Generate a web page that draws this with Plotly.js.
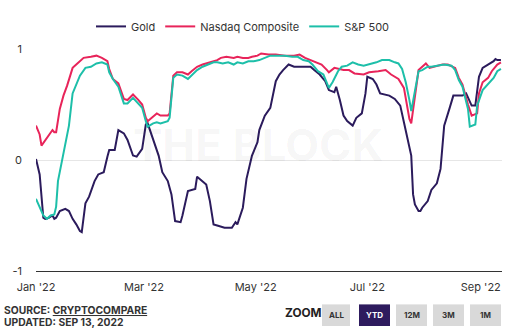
<!DOCTYPE html>
<html>
<head>
<meta charset="utf-8">
<script src="https://cdn.plot.ly/plotly-3.0.1.min.js"></script>
<style>
html,body{margin:0;padding:0;background:#fff;}
#chart{width:523px;height:336px;}
</style>
</head>
<body>
<div id="chart"></div>
<script>
// ---- Data ----
const goldDates = ["2022-01-01","2022-01-03","2022-01-05","2022-01-06","2022-01-08","2022-01-10","2022-01-11","2022-01-12","2022-01-14","2022-01-17","2022-01-19","2022-01-21","2022-01-23","2022-01-25","2022-01-26","2022-01-28","2022-01-30","2022-02-02","2022-02-04","2022-02-07","2022-02-09","2022-02-10","2022-02-13","2022-02-15","2022-02-18","2022-02-20","2022-02-23","2022-02-25","2022-02-28","2022-03-02","2022-03-03","2022-03-06","2022-03-09","2022-03-11","2022-03-14","2022-03-16","2022-03-18","2022-03-21","2022-03-22","2022-03-25","2022-03-29","2022-03-30","2022-04-02","2022-04-04","2022-04-06","2022-04-08","2022-04-10","2022-04-14","2022-04-18","2022-04-20","2022-04-21","2022-04-24","2022-04-26","2022-04-29","2022-05-02","2022-05-03","2022-05-06","2022-05-09","2022-05-12","2022-05-14","2022-05-16","2022-05-19","2022-05-22","2022-05-28","2022-05-31","2022-06-02","2022-06-05","2022-06-08","2022-06-10","2022-06-13","2022-06-14","2022-06-16","2022-06-18","2022-06-20","2022-06-23","2022-06-25","2022-06-28","2022-06-30","2022-07-01","2022-07-04","2022-07-06","2022-07-08","2022-07-11","2022-07-13","2022-07-16","2022-07-19","2022-07-21","2022-07-23","2022-07-24","2022-07-25","2022-07-26","2022-07-27","2022-07-29","2022-07-30","2022-07-31","2022-08-03","2022-08-05","2022-08-08","2022-08-10","2022-08-11","2022-08-12","2022-08-15","2022-08-17","2022-08-20","2022-08-22","2022-08-24","2022-08-26","2022-08-27","2022-08-29","2022-08-30","2022-08-31","2022-09-02","2022-09-05","2022-09-08","2022-09-09","2022-09-10","2022-09-12"];
const goldValues = [0.01,-0.13,-0.52,-0.53,-0.52,-0.50,-0.53,-0.52,-0.46,-0.44,-0.46,-0.53,-0.58,-0.64,-0.65,-0.39,-0.33,-0.19,-0.13,-0.11,0.03,0.09,0.09,0.27,0.24,0.18,0.04,0.03,0.10,0.32,0.33,0.19,0.04,-0.11,-0.19,-0.31,-0.55,-0.56,-0.50,-0.28,-0.26,-0.15,-0.19,-0.22,-0.37,-0.58,-0.59,-0.61,-0.61,-0.56,-0.58,-0.43,-0.17,0.04,0.16,0.27,0.40,0.47,0.71,0.77,0.81,0.86,0.84,0.84,0.84,0.81,0.77,0.71,0.63,0.61,0.66,0.54,0.40,0.35,0.31,0.38,0.42,0.60,0.75,0.73,0.68,0.60,0.59,0.58,0.55,0.49,0.34,0.19,0.10,0.04,-0.31,-0.40,-0.46,-0.46,-0.43,-0.37,-0.27,-0.21,-0.08,0.16,0.31,0.47,0.58,0.58,0.58,0.60,0.52,0.49,0.49,0.60,0.75,0.83,0.86,0.89,0.91,0.90,0.90];

const nasdaqDates = ["2022-01-01","2022-01-03","2022-01-04","2022-01-06","2022-01-08","2022-01-10","2022-01-11","2022-01-12","2022-01-14","2022-01-16","2022-01-18","2022-01-21","2022-01-23","2022-01-27","2022-01-31","2022-02-03","2022-02-06","2022-02-09","2022-02-10","2022-02-12","2022-02-15","2022-02-18","2022-02-20","2022-02-23","2022-02-26","2022-02-28","2022-03-02","2022-03-03","2022-03-08","2022-03-10","2022-03-14","2022-03-15","2022-03-17","2022-03-19","2022-03-22","2022-03-25","2022-03-27","2022-03-30","2022-04-02","2022-04-04","2022-04-07","2022-04-10","2022-04-12","2022-04-15","2022-04-19","2022-04-21","2022-04-24","2022-04-27","2022-04-29","2022-05-02","2022-05-04","2022-05-08","2022-05-12","2022-05-17","2022-05-22","2022-05-25","2022-05-28","2022-05-31","2022-06-03","2022-06-06","2022-06-09","2022-06-10","2022-06-13","2022-06-18","2022-06-21","2022-06-24","2022-06-29","2022-07-02","2022-07-07","2022-07-11","2022-07-14","2022-07-18","2022-07-21","2022-07-23","2022-07-24","2022-07-25","2022-07-27","2022-07-29","2022-07-31","2022-08-02","2022-08-04","2022-08-07","2022-08-11","2022-08-14","2022-08-18","2022-08-20","2022-08-22","2022-08-25","2022-08-27","2022-08-30","2022-08-31","2022-09-02","2022-09-05","2022-09-07","2022-09-10","2022-09-12"];
const nasdaqValues = [0.31,0.23,0.13,0.18,0.22,0.27,0.25,0.25,0.46,0.58,0.67,0.83,0.86,0.92,0.93,0.94,0.92,0.89,0.82,0.73,0.69,0.55,0.54,0.59,0.54,0.50,0.38,0.35,0.42,0.40,0.40,0.42,0.76,0.79,0.79,0.77,0.80,0.84,0.86,0.87,0.88,0.90,0.92,0.93,0.92,0.93,0.92,0.92,0.93,0.94,0.96,0.95,0.95,0.94,0.94,0.95,0.92,0.90,0.88,0.86,0.81,0.79,0.83,0.81,0.81,0.78,0.77,0.79,0.80,0.81,0.77,0.73,0.65,0.45,0.37,0.33,0.55,0.81,0.84,0.87,0.83,0.84,0.86,0.86,0.83,0.74,0.68,0.50,0.40,0.42,0.60,0.70,0.74,0.80,0.86,0.88];

const spDates = ["2022-01-01","2022-01-03","2022-01-05","2022-01-07","2022-01-09","2022-01-11","2022-01-12","2022-01-13","2022-01-15","2022-01-17","2022-01-19","2022-01-21","2022-01-23","2022-01-25","2022-01-28","2022-01-31","2022-02-03","2022-02-06","2022-02-09","2022-02-10","2022-02-12","2022-02-15","2022-02-18","2022-02-20","2022-02-23","2022-02-26","2022-02-28","2022-03-02","2022-03-03","2022-03-06","2022-03-08","2022-03-10","2022-03-14","2022-03-15","2022-03-17","2022-03-19","2022-03-22","2022-03-25","2022-03-27","2022-03-30","2022-04-02","2022-04-05","2022-04-08","2022-04-10","2022-04-13","2022-04-16","2022-04-19","2022-04-21","2022-04-24","2022-04-27","2022-04-30","2022-05-03","2022-05-06","2022-05-09","2022-05-12","2022-05-17","2022-05-21","2022-05-24","2022-05-27","2022-05-30","2022-06-01","2022-06-04","2022-06-07","2022-06-09","2022-06-10","2022-06-12","2022-06-15","2022-06-17","2022-06-20","2022-06-23","2022-06-26","2022-06-29","2022-07-02","2022-07-06","2022-07-09","2022-07-13","2022-07-16","2022-07-18","2022-07-20","2022-07-22","2022-07-24","2022-07-25","2022-07-27","2022-07-29","2022-07-31","2022-08-03","2022-08-05","2022-08-09","2022-08-12","2022-08-16","2022-08-18","2022-08-20","2022-08-22","2022-08-25","2022-08-26","2022-08-29","2022-08-30","2022-09-02","2022-09-05","2022-09-08","2022-09-10","2022-09-12"];
const spValues = [-0.35,-0.43,-0.50,-0.53,-0.50,-0.49,-0.42,-0.19,-0.02,0.16,0.31,0.60,0.68,0.76,0.83,0.84,0.87,0.88,0.86,0.79,0.73,0.66,0.51,0.51,0.56,0.50,0.47,0.35,0.30,0.33,0.34,0.33,0.35,0.38,0.74,0.77,0.76,0.73,0.76,0.81,0.84,0.86,0.88,0.88,0.87,0.88,0.86,0.88,0.87,0.89,0.89,0.90,0.92,0.94,0.94,0.94,0.93,0.93,0.90,0.89,0.86,0.80,0.77,0.70,0.65,0.70,0.80,0.84,0.85,0.88,0.86,0.85,0.86,0.88,0.90,0.90,0.88,0.87,0.82,0.70,0.54,0.44,0.62,0.80,0.81,0.84,0.84,0.85,0.86,0.85,0.81,0.72,0.66,0.46,0.30,0.32,0.49,0.63,0.69,0.74,0.80,0.82];

const seriesNames = ["Gold", "Nasdaq Composite", "S&P 500"];
const xTickVals = ["2022-01-01","2022-03-01","2022-05-01","2022-07-01","2022-09-01"];
const xTickText = ["Jan '22","Mar '22","May '22","Jul '22","Sep '22"];
const yTickVals = [-1, 0, 1];
const yTickText = ["-1", "0", "1"];
const zoomButtons = ["ALL", "YTD", "12M", "3M", "1M"];

// ---- Styling ----
const colors = ["#2b1b5c", "#e8245a", "#1dbfa9"];
const FONT = "Inter, 'Open Sans', Roboto, sans-serif";

const traces = [
  {x: goldDates, y: goldValues},
  {x: nasdaqDates, y: nasdaqValues},
  {x: spDates, y: spValues}
].map((t, i) => ({
  type: "scatter", mode: "lines", name: seriesNames[i],
  x: t.x, y: t.y,
  line: {color: colors[i], width: 2},
  hoverinfo: "skip"
}));

// pixel helpers for the footer (plot area: x 36..502, y 45..271)
const L = 36, R = 502, T = 45, B = 271;
const px = v => (v - L) / (R - L);
const py = v => (B - v) / (B - T);

const shapes = [];
const annotations = [
  {text: "THE BLOCK", xref: "paper", yref: "paper", x: px(258), y: py(143),
   showarrow: false, font: {family: FONT, size: 44, color: "rgba(0,0,0,0.045)", weight: 700}},
  {text: "<b>SOURCE: <u>CRYPTOCOMPARE</u></b>", xref: "paper", yref: "paper",
   x: px(2), y: py(311), xanchor: "left", yanchor: "middle", showarrow: false,
   font: {family: FONT, size: 10.3, color: "#333"}},
  {text: "<b>UPDATED: SEP 13, 2022</b>", xref: "paper", yref: "paper",
   x: px(2), y: py(322.5), xanchor: "left", yanchor: "middle", showarrow: false,
   font: {family: FONT, size: 10.3, color: "#333"}},
  {text: "<b>ZOOM</b>", xref: "paper", yref: "paper",
   x: px(283), y: py(314), xanchor: "left", yanchor: "middle", showarrow: false,
   font: {family: FONT, size: 11.8, color: "#222"}}
];
const btnX = [[322,350],[359,390],[396,427],[433,464],[470,501]];
zoomButtons.forEach((label, i) => {
  const active = label === "YTD";
  shapes.push({type: "rect", xref: "paper", yref: "paper",
    x0: px(btnX[i][0]), x1: px(btnX[i][1]), y0: py(327), y1: py(305),
    fillcolor: active ? "#2e1b5e" : "#d9d9d9", line: {width: 0}, layer: "above"});
  annotations.push({text: "<b>" + label + "</b>", xref: "paper", yref: "paper",
    x: px((btnX[i][0] + btnX[i][1]) / 2), y: py(316), xanchor: "center", yanchor: "middle",
    showarrow: false, font: {family: FONT, size: 8, color: active ? "#ffffff" : "#333"}});
});

const layout = {
  width: 523, height: 336,
  margin: {l: L, r: 523 - R, t: T, b: 336 - B},
  paper_bgcolor: "#ffffff", plot_bgcolor: "#ffffff",
  font: {family: FONT, size: 11, color: "#333"},
  showlegend: true,
  legend: {orientation: "h", x: px(243), xanchor: "center", y: py(22), yanchor: "middle",
           font: {family: FONT, size: 11, color: "#333"}, itemwidth: 30, tracegroupgap: 0},
  xaxis: {type: "date", range: ["2022-01-01", "2022-09-12 14:00"],
          tickvals: xTickVals, ticktext: xTickText, showgrid: false, zeroline: false,
          showline: true, linecolor: "#333", linewidth: 1, ticks: "",
          tickfont: {family: FONT, size: 11, color: "#333"}, ticklabelstandoff: 6},
  yaxis: {range: [-1, 1], tickvals: yTickVals, ticktext: yTickText, showgrid: true,
          gridcolor: "#e6e6e6", gridwidth: 1, zeroline: false, showline: false,
          tickfont: {family: FONT, size: 11, color: "#333"}, ticklabelstandoff: 13},
  shapes: shapes,
  annotations: annotations
};

Plotly.newPlot("chart", traces, layout, {displayModeBar: false, staticPlot: true});
</script>
</body>
</html>
